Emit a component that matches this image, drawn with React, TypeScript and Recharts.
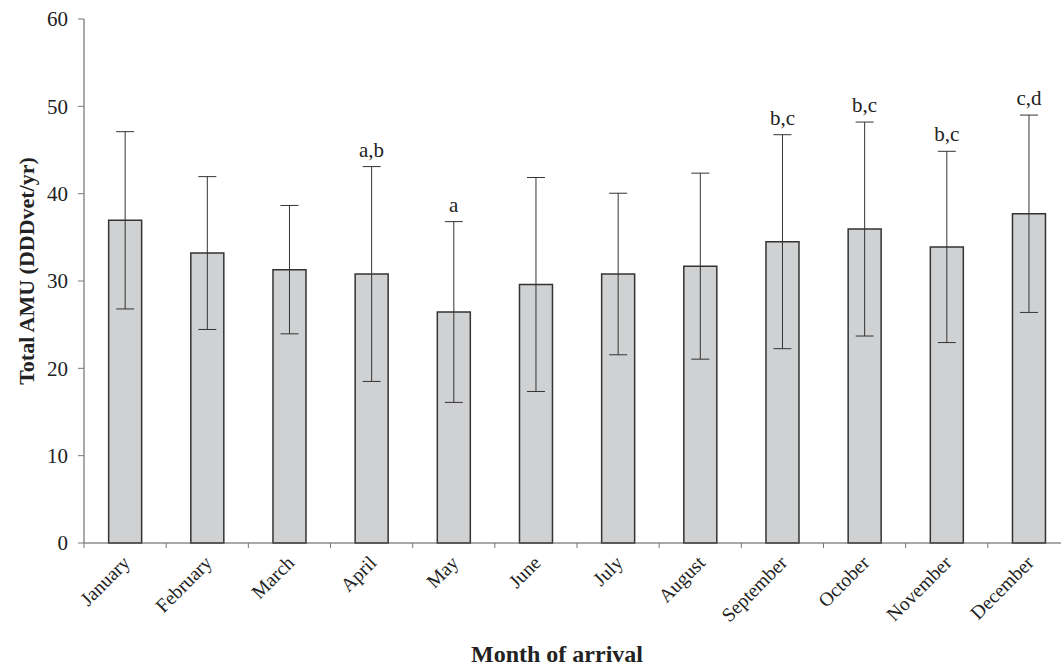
import { Bar, ComposedChart, ErrorBar, LabelList, Line, XAxis, YAxis } from "recharts";

const months = ["January", "February", "March", "April", "May", "June", "July", "August", "September", "October", "November", "December"];
const means = [36.95, 33.2, 31.3, 30.8, 26.45, 29.6, 30.8, 31.7, 34.5, 35.95, 33.9, 37.7];
const errs = [10.15, 8.75, 7.35, 12.3, 10.35, 12.25, 9.25, 10.65, 12.25, 12.25, 10.95, 11.3];
const sig = ["", "", "", "a,b", "a", "", "", "", "b,c", "b,c", "b,c", "c,d"];
const yTicks = [0, 10, 20, 30, 40, 50, 60];

const data = months.map((m, i) => ({ month: m, amu: means[i], err: errs[i], top: means[i] + errs[i], sig: sig[i] }));

const font = "'Liberation Serif', 'Times New Roman', serif";
const W = 1075;
const H = 666;
const axisW = 84;
const rightM = 5;
const band = (W - axisW - rightM) / months.length;

const MonthTick = (props: any) => {
  const { x, y, payload } = props;
  return (
    <g>
      <line x1={x - band / 2} x2={x - band / 2} y1={y} y2={y + 5} stroke="#777" />
      <text x={x + 6} y={y + 21} transform={`rotate(-45, ${x + 6}, ${y + 21})`} textAnchor="end"
        fontFamily={font} fontSize={19.5} fill="#222">{payload.value}</text>
    </g>
  );
};

export default function App() {
  return (
    <div style={{ position: "absolute", left: 0, top: 0, width: 1061, height: 666, overflow: "hidden", background: "#fff" }}>
      <ComposedChart width={W} height={H} data={data} margin={{ top: 19, right: rightM, left: 0, bottom: 0 }} barCategoryGap="30%">
        <XAxis dataKey="month" interval={0} height={123} tickSize={0} tickMargin={0} tickLine={false}
          axisLine={{ stroke: "#555" }} tick={<MonthTick />}
          label={{
            content: ({ viewBox }: any) => (
              <text x={viewBox.x + viewBox.width / 2 - 20} y={viewBox.y + viewBox.height - 4} textAnchor="middle"
                fontFamily={font} fontSize={24} fontWeight="bold" fill="#222">Month of arrival</text>
            ),
          }} />
        <YAxis domain={[0, 60]} ticks={yTicks} width={axisW} tickSize={6} tickMargin={10}
          axisLine={{ stroke: "#555" }} tickLine={{ stroke: "#777" }}
          tick={{ fontFamily: font, fontSize: 21, fill: "#222" }}
          label={{
            content: ({ viewBox }: any) => {
              const cx = viewBox.x + 26;
              const cy = viewBox.y + viewBox.height / 2 - 10;
              return (
                <text x={cx} y={cy} transform={`rotate(-90, ${cx}, ${cy})`} textAnchor="middle" dominantBaseline="central"
                  fontFamily={font} fontSize={22} fontWeight="bold" fill="#222">Total AMU (DDDvet/yr)</text>
              );
            },
          }} />
        <Bar dataKey="amu" fill="#d0d1d3" stroke="#333" strokeWidth={1.5} isAnimationActive={false}>
          <ErrorBar dataKey="err" width={9} stroke="#333" strokeWidth={1} />
        </Bar>
        <Line dataKey="top" stroke="none" dot={false} activeDot={false} legendType="none" isAnimationActive={false}>
          <LabelList dataKey="sig" position="top" offset={10} fontFamily={font} fontSize={21} fill="#222" />
        </Line>
      </ComposedChart>
    </div>
  );
}
